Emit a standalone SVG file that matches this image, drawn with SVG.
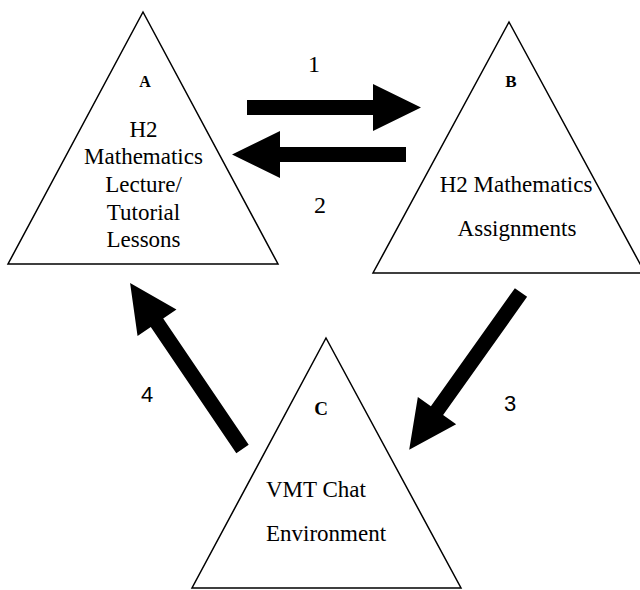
<svg xmlns="http://www.w3.org/2000/svg" width="640" height="590" viewBox="0 0 640 590">
<style>
.tri{fill:#fff;stroke:#000;stroke-width:1.5;stroke-linejoin:miter}
.arr{fill:#000;stroke:none}
</style>
<rect width="640" height="590" fill="#fff"/>
<g id="nodeA">
<polygon class="tri" points="143,12 278,264 8,264"/>
<text x="145" y="87" font-family="'Liberation Serif', serif" font-size="16" font-weight="bold" text-anchor="middle">A</text>
<g font-family="'Liberation Serif', serif" font-size="23" text-anchor="middle">
<text x="143.5" y="137">H2</text>
<text x="143.5" y="164">Mathematics</text>
<text x="143.5" y="192">Lecture/</text>
<text x="143.5" y="220">Tutorial</text>
<text x="143.5" y="247">Lessons</text>
</g>
</g>
<g id="nodeB">
<polygon class="tri" points="509,22 645,273 373,273"/>
<text x="511" y="87" font-family="'Liberation Serif', serif" font-size="17" font-weight="bold" text-anchor="middle">B</text>
<g font-family="'Liberation Serif', serif" font-size="23" text-anchor="middle">
<text x="516" y="192">H2 Mathematics</text>
<text x="517" y="236">Assignments</text>
</g>
</g>
<g id="nodeC">
<polygon class="tri" points="326,338 461,588 192,588"/>
<text x="321" y="415" font-family="'Liberation Serif', serif" font-size="19" font-weight="bold" text-anchor="middle">C</text>
<g font-family="'Liberation Serif', serif" font-size="23">
<text x="266" y="497">VMT Chat</text>
<text x="266" y="541">Environment</text>
</g>
</g>
<g id="connectors">
<polygon class="arr" transform="translate(247,107.5)" points="0,-7.5 126,-7.5 126,-23.5 174,0 126,23.5 126,7.5 0,7.5"/>
<polygon class="arr" transform="translate(406,154.5) rotate(180)" points="0,-7.5 126,-7.5 126,-23.5 174,0 126,23.5 126,7.5 0,7.5"/>
<polygon class="arr" transform="translate(521,292.5) rotate(125.4)" points="0,-7.5 145,-7.5 145,-23.5 193,0 145,23.5 145,7.5 0,7.5"/>
<polygon class="arr" transform="translate(242.5,449) rotate(-124.1)" points="0,-7.5 152.5,-7.5 152.5,-23.5 200.5,0 152.5,23.5 152.5,7.5 0,7.5"/>
<g font-family="'Liberation Serif', serif" font-size="24" text-anchor="middle">
<text x="314" y="72">1</text>
<text x="320" y="213">2</text>
</g>
<g font-family="'Liberation Sans', sans-serif" font-size="22" text-anchor="middle">
<text x="510" y="411">3</text>
<text x="147" y="402">4</text>
</g>
</g>
</svg>
